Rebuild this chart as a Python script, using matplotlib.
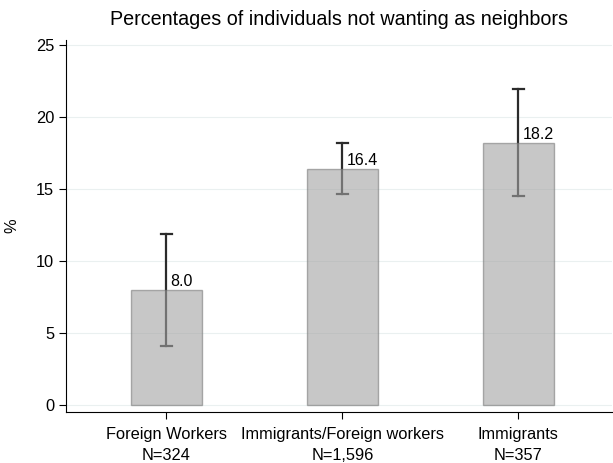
import matplotlib.pyplot as plt

plt.rcParams['font.family'] = ['Liberation Sans', 'DejaVu Sans']

categories = ['Foreign Workers\nN=324', 'Immigrants/Foreign workers\nN=1,596', 'Immigrants\nN=357']
values = [8.0, 16.4, 18.2]
ci_low = [4.1, 14.65, 14.5]
ci_high = [11.9, 18.2, 21.9]
yticks = [0, 5, 10, 15, 20, 25]

fig = plt.figure(figsize=(6.13, 4.63), dpi=100)
ax = fig.add_axes([0.1077, 0.110, 0.890, 0.804])

x = list(range(len(values)))
for i in x:
    ax.plot([i, i], [ci_low[i], ci_high[i]], color='#2b2b2b', lw=1.6, zorder=2)
    ax.plot([i - 0.03, i + 0.03], [ci_low[i]] * 2, color='#2b2b2b', lw=1.6, zorder=2)
    ax.plot([i - 0.03, i + 0.03], [ci_high[i]] * 2, color='#2b2b2b', lw=1.6, zorder=2)

bars = ax.bar(x, values, width=0.4, color='#a3a3a3', edgecolor='#7b7b7b',
              linewidth=1, alpha=0.6, zorder=3)
for i, v in zip(x, values):
    ax.text(i + 0.025, v + 0.05, f'{v:.1f}', ha='left', va='bottom', fontsize=11.5, zorder=4)

ax.set_xlim(-0.57, 2.53)
ax.set_ylim(-0.5, 25.35)
ax.set_yticks(yticks)
ax.set_xticks(x)
ax.set_xticklabels(categories, fontsize=11.8, linespacing=1.45)
ax.tick_params(axis='y', labelsize=11.8, length=5)
ax.tick_params(axis='x', length=5, pad=6)
ax.set_ylabel('%', fontsize=11.8, labelpad=12)
ax.yaxis.grid(True, color='#eaf0f0', lw=0.8)
ax.set_axisbelow(True)
ax.spines['top'].set_visible(False)
ax.spines['right'].set_visible(False)
ax.set_title('Percentages of individuals not wanting as neighbors', fontsize=14.2, pad=11)

fig.savefig('out.png', dpi=100)
